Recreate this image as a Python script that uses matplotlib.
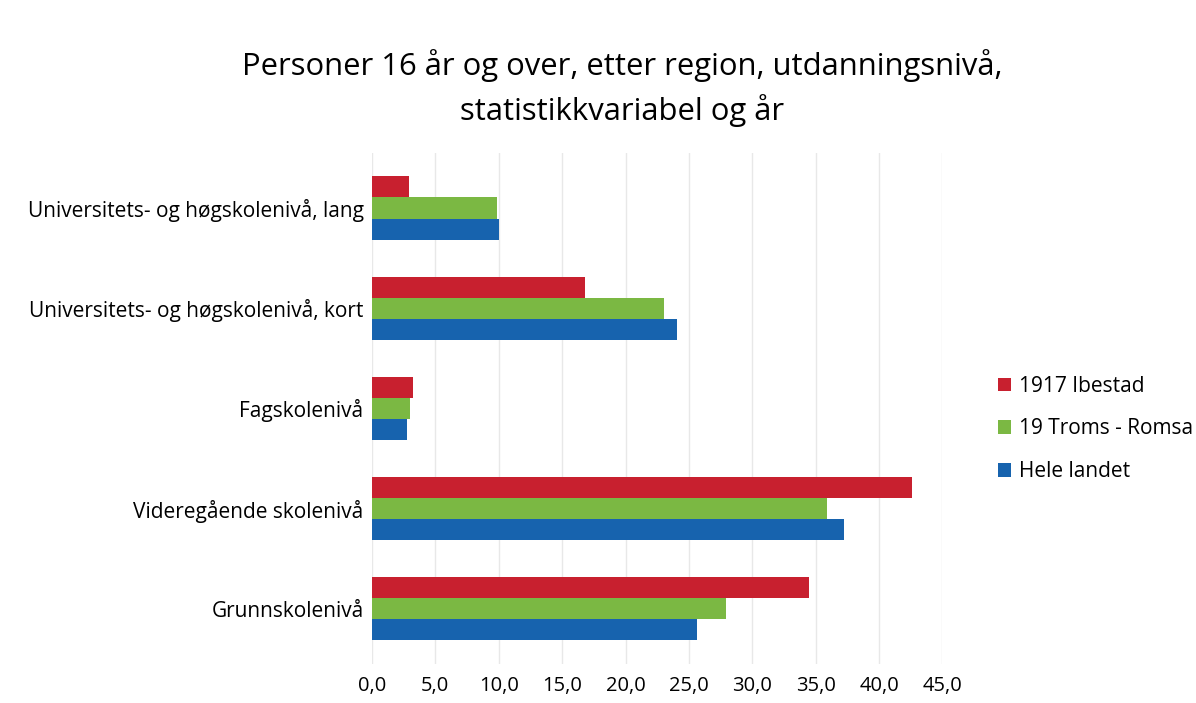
import numpy as np
import matplotlib.pyplot as plt

plt.rcParams['font.family'] = ['Open Sans', 'DejaVu Sans']

# data (percent)
categories = ["Universitets- og høgskolenivå, lang",
              "Universitets- og høgskolenivå, kort",
              "Fagskolenivå",
              "Videregående skolenivå",
              "Grunnskolenivå"]
ibestad = [2.9, 16.8, 3.2, 42.6, 34.5]
troms = [9.9, 23.0, 3.0, 35.9, 27.9]
hele_landet = [10.0, 24.1, 2.8, 37.2, 25.6]

series = ["1917 Ibestad", "19 Troms - Romsa", "Hele landet"]
colors = ["#C8202F", "#7BB843", "#1763AE"]
ticks = np.arange(0, 50, 5)

fig = plt.figure(figsize=(11.96, 7.03), dpi=100)
ax = fig.add_axes([0.311, 0.0555, 0.477, 0.727])

y = np.arange(len(categories))
h = 0.21
for i, (vals, c, lab) in enumerate(zip([ibestad, troms, hele_landet], colors, series)):
    ax.barh(y + (i - 1) * h, vals, height=h, color=c, label=lab, zorder=3)

ax.set_yticks(y)
ax.set_yticklabels(categories, fontsize=15)
ax.set_ylim(4.55, -0.55)
ax.set_xlim(0, 45)
ax.set_xticks(ticks)
ax.set_xticklabels([f"{t:.1f}".replace(".", ",") for t in ticks], fontsize=14.5)
ax.tick_params(length=0)
ax.tick_params(axis="x", pad=9)
ax.tick_params(axis="y", pad=6)
ax.grid(axis="x", color="#e8e8e8", linewidth=1, zorder=0)
for s in ax.spines.values():
    s.set_visible(False)

ax.legend(loc="center left", bbox_to_anchor=(1.065, 0.46), frameon=False,
          fontsize=15, handlelength=0.6, handleheight=0.6, handletextpad=0.4,
          labelspacing=1.05)

fig.suptitle("Personer 16 år og over, etter region, utdanningsnivå,\nstatistikkvariabel og år",
             x=0.52, y=0.93, fontsize=22.3, linespacing=1.45)

plt.savefig("out.png", dpi=100)
